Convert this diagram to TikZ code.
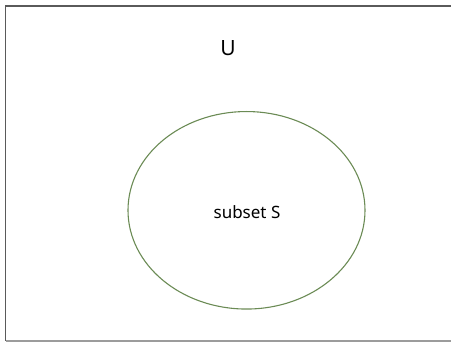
\documentclass[tikz,border=0pt]{standalone}
\usepackage{fontspec}
\usetikzlibrary{shapes.geometric}
\setmainfont{Noto Sans}
\definecolor{frame}{HTML}{5A5A5A}
\definecolor{setgreen}{HTML}{6B8B55}
\begin{document}
\begin{tikzpicture}[x=1pt,y=-1pt,
  framestyle/.style={draw=frame,line width=1.5pt},
  setstyle/.style={draw=setgreen,line width=1.1pt},
  labelstyle/.style={inner sep=0pt,text=black}]
\useasboundingbox (0,0) rectangle (451,342);
\draw[framestyle] (5.5,341) -- (5.5,6) -- (451,6);
\draw[frame!60,line width=1.5pt] (5.5,341) -- (451,341);
\node[setstyle,ellipse,minimum width=237pt,minimum height=197.5pt,inner sep=0pt] (S) at (246.5,210.3) {};
\node[labelstyle,font=\fontsize{17}{20}\selectfont] (s) at (247,212) {subset S};
\node[labelstyle,font=\fontsize{21}{24}\selectfont] (U) at (228,48) {U};
\end{tikzpicture}
\end{document}
